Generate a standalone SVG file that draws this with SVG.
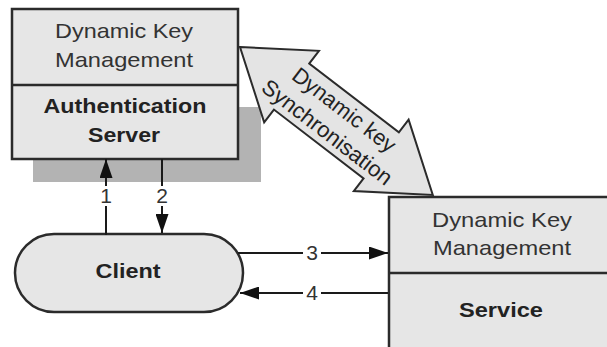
<svg xmlns="http://www.w3.org/2000/svg" width="607" height="347" viewBox="0 0 607 347">
  <style>
    .box { fill: #e6e6e6; stroke: #2b2b2b; stroke-width: 2.5; }
    .div { stroke: #2b2b2b; stroke-width: 2.5; }
    .shadow { fill: #b3b3b3; }
    .t { font-family: "Liberation Sans", Arial, sans-serif; font-size: 21px; fill: #333; text-anchor: middle; }
    .b { font-family: "Liberation Sans", Arial, sans-serif; font-size: 21px; font-weight: bold; fill: #222; text-anchor: middle; }
    .s { font-family: "Liberation Sans", Arial, sans-serif; font-size: 22px; fill: #222; text-anchor: middle; }
    .conn { fill: none; stroke: #1a1a1a; stroke-width: 2; }
    .lbl { font-family: "Liberation Sans", Arial, sans-serif; font-size: 21px; fill: #333; text-anchor: middle; }
    .sync { fill: #e4e4e4; stroke: #2b2b2b; stroke-width: 2; stroke-linejoin: miter; }
  </style>
  <defs>
    <marker id="head" markerUnits="userSpaceOnUse" markerWidth="19" markerHeight="13" refX="19" refY="6.5" orient="auto">
      <path d="M0,0 L19,6.5 L0,13 z" fill="#111"/>
    </marker>
  </defs>

  <rect width="607" height="347" fill="#ffffff"/>

  <!-- Authentication server -->
  <g id="auth-server">
    <rect class="shadow" x="33" y="107" width="228" height="75"/>
    <rect class="box" x="12" y="9" width="226" height="150"/>
    <line class="div" x1="12" y1="85" x2="238" y2="85"/>
    <text class="t" x="124" y="38" textLength="138" lengthAdjust="spacingAndGlyphs">Dynamic Key</text>
    <text class="t" x="124" y="67" textLength="138" lengthAdjust="spacingAndGlyphs">Management</text>
    <text class="b" x="125" y="113" textLength="163" lengthAdjust="spacingAndGlyphs">Authentication</text>
    <text class="b" x="124" y="142" textLength="72" lengthAdjust="spacingAndGlyphs">Server</text>
  </g>

  <!-- Service -->
  <g id="service">
    <rect class="box" x="389" y="197" width="232" height="165"/>
    <line class="div" x1="389" y1="273" x2="621" y2="273"/>
    <text class="t" x="502" y="227" textLength="140" lengthAdjust="spacingAndGlyphs">Dynamic Key</text>
    <text class="t" x="502" y="255" textLength="138" lengthAdjust="spacingAndGlyphs">Management</text>
    <text class="b" x="501" y="317" textLength="84" lengthAdjust="spacingAndGlyphs">Service</text>
  </g>

  <!-- Client -->
  <g id="client">
    <rect class="box" x="15" y="234" width="228" height="78" rx="39" ry="39" stroke-width="2"/>
    <text class="b" x="128" y="278" textLength="65" lengthAdjust="spacingAndGlyphs">Client</text>
  </g>

  <!-- Key synchronisation double arrow -->
  <g id="key-sync" transform="translate(240,47) rotate(37.5)">
    <polygon class="sync" points="0,0 65,-45 65,-29 178,-29 178,-45 243,0 178,45 178,29 65,29 65,45"/>
    <text class="s" x="121" y="-6" textLength="124" lengthAdjust="spacingAndGlyphs">Dynamic key</text>
    <text class="s" x="121" y="22" textLength="158" lengthAdjust="spacingAndGlyphs">Synchronisation</text>
  </g>

  <!-- Connectors -->
  <g id="connectors">
    <path class="conn" d="M106,235 V206 M106,186 V159" marker-end="url(#head)"/>
    <path class="conn" d="M162,159 V186 M162,206 V233" marker-end="url(#head)"/>
    <path class="conn" d="M238,253 H303 M321,253 H388" marker-end="url(#head)"/>
    <path class="conn" d="M388,293 H321 M303,293 H240" marker-end="url(#head)"/>
    <text class="lbl" x="106" y="203">1</text>
    <text class="lbl" x="162" y="203">2</text>
    <text class="lbl" x="312" y="260">3</text>
    <text class="lbl" x="312" y="300">4</text>
  </g>
</svg>
